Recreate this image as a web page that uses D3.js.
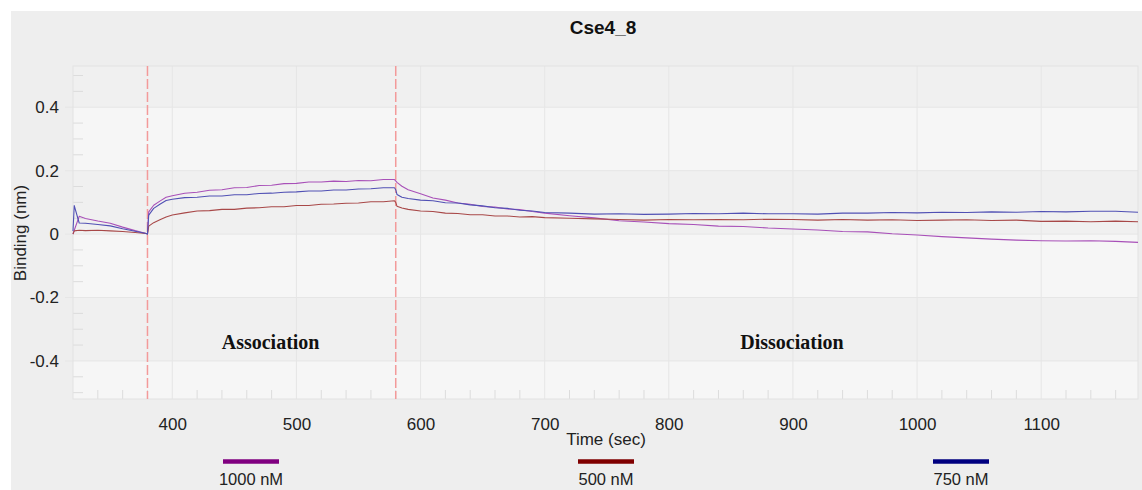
<!DOCTYPE html>
<html>
<head>
<meta charset="utf-8">
<script src="https://cdn.jsdelivr.net/npm/d3@7"></script>
<style>
  body { margin: 0; background: #ffffff; }
</style>
</head>
<body>
<div id="chart"></div>
<script>

// Set dimensions and margins for the plot
const width = 1142;
const height = 490;
const margin = {left: 73, right: 4, bottom: 91, top: 66};

// Chart data
const title = "Cse4_8";
const xTicks = [400, 500, 600, 700, 800, 900, 1000, 1100];
const yTicks = [-0.4, -0.2, 0, 0.2, 0.4];
const yTickLabels = ["-0.4", "-0.2", "0", "0.2", "0.4"];
const stepTimes = [380, 580];
const phaseLabels = ["Association", "Dissociation"];
const phaseCenters = [480, 900];

const time = [
  320, 321, 325, 330, 340, 350, 360, 370, 379, 380,
  381, 385, 390, 395, 400, 410, 420, 430, 440, 450, 460, 470, 480, 490,
  500, 510, 520, 530, 540, 550, 560, 570, 579,
  580, 581, 585, 590, 600, 610, 620, 630, 640, 650, 660, 670, 680, 690,
  700, 720, 740, 760, 780, 800, 820, 840, 860, 880, 900, 920, 940, 960,
  980, 1000, 1020, 1040, 1060, 1080, 1100, 1120, 1140, 1160, 1178
];

const nm1000 = [
  0.000, 0.012, 0.056, 0.049, 0.041, 0.034, 0.022, 0.011, 0.002, 0.000,
  0.070, 0.091, 0.104, 0.116, 0.121, 0.129, 0.132, 0.138, 0.140, 0.146, 0.147, 0.153, 0.154, 0.159,
  0.160, 0.164, 0.164, 0.167, 0.166, 0.169, 0.168, 0.172, 0.172,
  0.168, 0.163, 0.151, 0.140, 0.127, 0.114, 0.107, 0.098, 0.094, 0.087, 0.085, 0.079, 0.077, 0.071,
  0.066, 0.058, 0.051, 0.042, 0.038, 0.033, 0.030, 0.025, 0.024, 0.019, 0.016, 0.013, 0.008, 0.007,
  0.001, -0.003, -0.008, -0.012, -0.016, -0.019, -0.021, -0.022, -0.021, -0.023, -0.026
];

const nm500 = [
  0.000, 0.010, 0.012, 0.011, 0.012, 0.010, 0.008, 0.005, 0.002, 0.000,
  0.025, 0.036, 0.045, 0.054, 0.060, 0.067, 0.073, 0.074, 0.078, 0.078, 0.082, 0.083, 0.086, 0.086,
  0.090, 0.090, 0.094, 0.095, 0.097, 0.098, 0.102, 0.102, 0.105,
  0.100, 0.088, 0.082, 0.078, 0.073, 0.071, 0.066, 0.065, 0.061, 0.061, 0.057, 0.057, 0.054, 0.055,
  0.052, 0.050, 0.048, 0.046, 0.044, 0.046, 0.045, 0.046, 0.045, 0.047, 0.046, 0.044, 0.046, 0.044,
  0.045, 0.043, 0.044, 0.045, 0.043, 0.044, 0.040, 0.041, 0.039, 0.041, 0.039
];

const nm750 = [
  0.010, 0.090, 0.035, 0.034, 0.030, 0.026, 0.017, 0.009, 0.002, 0.000,
  0.060, 0.081, 0.094, 0.106, 0.110, 0.115, 0.116, 0.120, 0.120, 0.124, 0.124, 0.128, 0.129, 0.132,
  0.133, 0.136, 0.136, 0.139, 0.139, 0.142, 0.143, 0.146, 0.146,
  0.140, 0.125, 0.116, 0.112, 0.107, 0.105, 0.099, 0.098, 0.092, 0.089, 0.083, 0.081, 0.075, 0.073,
  0.068, 0.066, 0.063, 0.064, 0.062, 0.063, 0.065, 0.064, 0.066, 0.064, 0.064, 0.063, 0.066, 0.066,
  0.068, 0.067, 0.069, 0.068, 0.070, 0.069, 0.071, 0.070, 0.072, 0.072, 0.069
];

const seriesNames = ["1000 nM", "500 nM", "750 nM"];
const seriesValues = [nm1000, nm500, nm750];
const lineColors = ["#a850b8", "#a84848", "#5050b4"];
const legendColors = ["#800080", "#800000", "#000080"];
const legendCenters = [251, 606, 961];

const sansFont = "Liberation Sans, Arial, sans-serif";

// Append svg object to the page
const svg = d3
  .select("#chart")
  .append("svg")
  .attr("width", width)
  .attr("height", height)
  .attr("viewBox", [0, 0, width, height])
  .attr("font-family", sansFont);

// gray panel behind everything
svg.append("rect")
  .attr("x", 11).attr("y", 11)
  .attr("width", width - 11).attr("height", height - 11)
  .attr("fill", "#eeeeee");

/*

  Scales

*/

let xScale = d3.scaleLinear()
  .domain([320, 1178])
  .range([margin.left, width - margin.right]);

let yScale = d3.scaleLinear()
  .domain([-0.52, 0.53])
  .range([height - margin.bottom, margin.top]);

const plotLeft = margin.left;
const plotRight = width - margin.right;
const plotTop = margin.top;
const plotBottom = height - margin.bottom;

// alternating background bands between major y ticks
const bandEdges = [0.53, 0.4, 0.2, 0, -0.2, -0.4, -0.52];
for (let i = 0; i < bandEdges.length - 1; i++) {
  svg.append("rect")
    .attr("x", plotLeft)
    .attr("y", yScale(bandEdges[i]))
    .attr("width", plotRight - plotLeft)
    .attr("height", yScale(bandEdges[i + 1]) - yScale(bandEdges[i]))
    .attr("fill", i % 2 == 0 ? "#f0f0f0" : "#f6f6f6");
}

// grid lines
svg.append("g")
  .selectAll("line")
  .data(xTicks)
  .enter()
  .append("line")
    .attr("x1", d => xScale(d)).attr("x2", d => xScale(d))
    .attr("y1", plotTop).attr("y2", plotBottom)
    .attr("stroke", "#e6e6e6");

svg.append("g")
  .selectAll("line")
  .data(yTicks)
  .enter()
  .append("line")
    .attr("x1", plotLeft - 8).attr("x2", plotRight)
    .attr("y1", d => yScale(d)).attr("y2", d => yScale(d))
    .attr("stroke", "#e6e6e6");

// minor ticks (every 20 sec / 0.05 nm)
const xMinor = d3.range(340, 1178, 20).filter(d => d % 100 != 0);
svg.append("g")
  .selectAll("line")
  .data(xMinor)
  .enter()
  .append("line")
    .attr("x1", d => xScale(d)).attr("x2", d => xScale(d))
    .attr("y1", plotBottom).attr("y2", plotBottom - 9)
    .attr("stroke", "#dcdcdc");

const yMinor = d3.range(-0.5, 0.53, 0.05).filter(d => Math.abs(Math.round(d * 100)) % 20 != 0);
svg.append("g")
  .selectAll("line")
  .data(yMinor)
  .enter()
  .append("line")
    .attr("x1", plotLeft).attr("x2", plotLeft + 10)
    .attr("y1", d => yScale(d)).attr("y2", d => yScale(d))
    .attr("stroke", "#dcdcdc");

// plot border
svg.append("rect")
  .attr("x", plotLeft).attr("y", plotTop)
  .attr("width", plotRight - plotLeft).attr("height", plotBottom - plotTop)
  .attr("fill", "none")
  .attr("stroke", "#e2e2e2");

// add y axis
svg.append("g")
  .attr("transform", `translate(${plotLeft - 11}, 0)`)
  .call(d3.axisLeft(yScale).tickValues(yTicks).tickSize(0)
          .tickFormat((d, i) => yTickLabels[i]))
  .attr("font-size", "17px")
  .attr("font-family", sansFont)
  .call(g => g.select(".domain").remove())
  .call(g => g.selectAll("text").attr("fill", "#222"));

// add x axis
svg.append("g")
  .attr("transform", `translate(0, ${plotBottom + 16})`)
  .call(d3.axisBottom(xScale).tickValues(xTicks).tickSize(0)
          .tickFormat(d3.format("d")))
  .attr("font-size", "17px")
  .attr("font-family", sansFont)
  .call(g => g.select(".domain").remove())
  .call(g => g.selectAll("text").attr("fill", "#222"));

// axis titles
svg.append("text")
  .attr("x", 606).attr("y", 445)
  .attr("text-anchor", "middle")
  .attr("font-size", "17px")
  .attr("fill", "#222")
  .text("Time (sec)");

svg.append("text")
  .attr("transform", "translate(26, 233) rotate(-90)")
  .attr("text-anchor", "middle")
  .attr("font-size", "17px")
  .attr("fill", "#222")
  .text("Binding (nm)");

// title
svg.append("text")
  .attr("x", 603).attr("y", 34)
  .attr("text-anchor", "middle")
  .attr("font-size", "19px")
  .attr("font-weight", "bold")
  .attr("fill", "#111")
  .text(title);

/*

  Step markers and phase labels

*/

svg.append("g")
  .selectAll("line")
  .data(stepTimes)
  .enter()
  .append("line")
    .attr("x1", d => xScale(d)).attr("x2", d => xScale(d))
    .attr("y1", plotTop).attr("y2", plotBottom)
    .attr("stroke", "#f39a9a")
    .attr("stroke-width", 1.5)
    .attr("stroke-dasharray", "10,3");

svg.append("g")
  .selectAll("text")
  .data(phaseLabels)
  .enter()
  .append("text")
    .attr("x", (d, i) => xScale(phaseCenters[i]) - 1)
    .attr("y", 349)
    .attr("text-anchor", "middle")
    .attr("font-family", "Liberation Serif, Times New Roman, serif")
    .attr("font-weight", "bold")
    .attr("font-size", "20px")
    .attr("fill", "#111")
    .text(d => d);

/*

  Lines

*/

const line = d3.line()
  .x((d, i) => xScale(time[i]))
  .y(d => yScale(d));

svg.append("g")
  .selectAll("path")
  .data(seriesValues)
  .enter()
  .append("path")
    .attr("d", d => line(d))
    .attr("fill", "none")
    .attr("stroke", (d, i) => lineColors[i])
    .attr("stroke-width", 1.1)
    .attr("stroke-linejoin", "round");

/*

  Legend

*/

const legend = svg.append("g")
  .selectAll("g")
  .data(seriesNames)
  .enter()
  .append("g");

legend.append("line")
  .attr("x1", (d, i) => legendCenters[i] - 28)
  .attr("x2", (d, i) => legendCenters[i] + 28)
  .attr("y1", 461.5).attr("y2", 461.5)
  .attr("stroke", (d, i) => legendColors[i])
  .attr("stroke-width", 4.5);

legend.append("text")
  .attr("x", (d, i) => legendCenters[i])
  .attr("y", 485)
  .attr("text-anchor", "middle")
  .attr("font-size", "16.5px")
  .attr("fill", "#222")
  .text(d => d);

</script>
</body>
</html>
